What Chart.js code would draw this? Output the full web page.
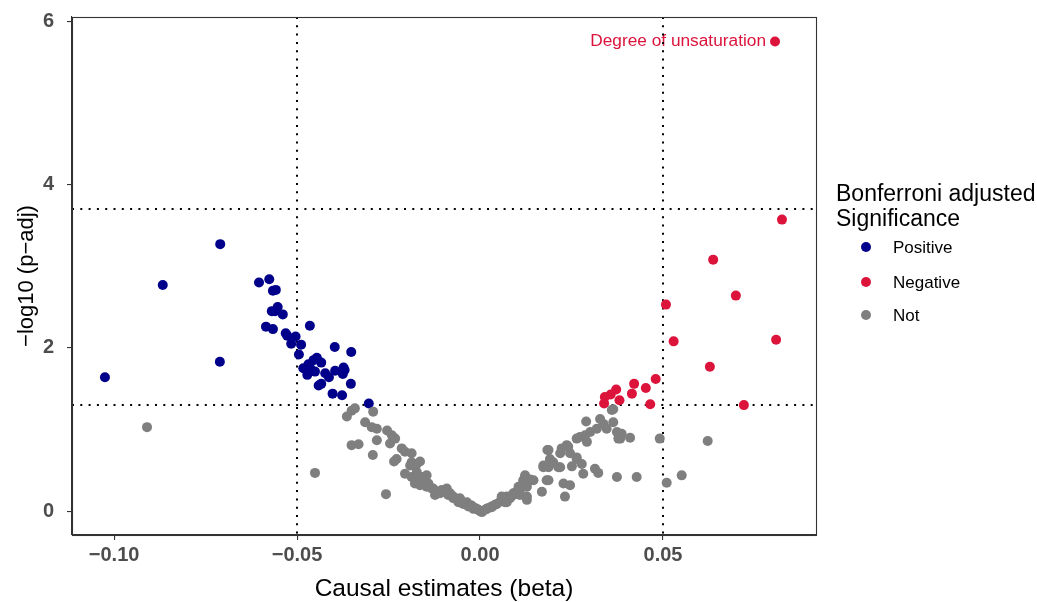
<!DOCTYPE html>
<html>
<head>
<meta charset="utf-8">
<script src="https://cdn.jsdelivr.net/npm/chart.js@4.4.1/dist/chart.umd.min.js"></script>
<style>
html,body{margin:0;padding:0;background:#fff;}
#wrap{width:1037px;height:602px;position:relative;}
</style>
</head>
<body>
<div id="wrap"><canvas id="c" width="1037" height="602"></canvas></div>
<script>
// ---- Data (beta, -log10 p-adj) ----
const positivePoints = [
  [-0.0710,3.27],[-0.0867,2.77],[-0.1025,1.64],[-0.0711,1.83],
  [-0.0604,2.80],[-0.0576,2.84],[-0.0566,2.70],[-0.0558,2.71],
  [-0.0553,2.50],[-0.0569,2.45],[-0.0560,2.45],[-0.0539,2.41],
  [-0.0585,2.26],[-0.0566,2.23],[-0.0465,2.27],[-0.0531,2.18],
  [-0.0527,2.15],[-0.0504,2.14],[-0.0516,2.05],[-0.0489,2.04],
  [-0.0397,2.01],[-0.0352,1.95],[-0.0495,1.92],[-0.0446,1.88],
  [-0.0455,1.85],[-0.0434,1.82],[-0.0469,1.80],[-0.0483,1.75],
  [-0.0464,1.75],[-0.0451,1.71],[-0.0472,1.67],[-0.0423,1.69],
  [-0.0413,1.64],[-0.0396,1.72],[-0.0373,1.76],[-0.0370,1.73],
  [-0.0375,1.68],[-0.0353,1.56],[-0.0441,1.54],[-0.0434,1.56],
  [-0.0403,1.44],[-0.0377,1.42],[-0.0304,1.32]
];
const negativePoints = [
  [0.0806,5.75],[0.0825,3.57],[0.0637,3.08],[0.0699,2.64],
  [0.0508,2.53],[0.0529,2.08],[0.0809,2.10],[0.0628,1.77],
  [0.0480,1.62],[0.0421,1.56],[0.0453,1.51],[0.0415,1.44],
  [0.0372,1.49],[0.0357,1.43],[0.0341,1.40],[0.0381,1.36],
  [0.0339,1.32],[0.0465,1.31],[0.0721,1.30]
];
const notPoints = [
  [-0.0910,1.03],[-0.0451,0.47],
  [-0.0364,1.16],[-0.0351,1.23],[-0.0342,1.26],
  [-0.0351,0.81],[-0.0332,0.82],
  [-0.0292,1.22],[-0.0314,1.09],[-0.0296,1.03],[-0.0282,1.01],
  [-0.0254,0.99],[-0.0241,0.93],[-0.0232,0.89],[-0.0282,0.87],[-0.0246,0.83],
  [-0.0293,0.69],[-0.0257,0.21],
  [-0.0214,0.77],[-0.0205,0.73],[-0.0228,0.64],[-0.0235,0.61],
  [-0.0191,0.56],[-0.0173,0.58],[-0.0187,0.60],[-0.0164,0.61],
  [-0.0187,0.71],[-0.0182,0.56],
  [-0.0205,0.46],[-0.0187,0.42],[-0.0169,0.40],[-0.0173,0.48],
  [-0.0159,0.42],[-0.0146,0.44],[-0.0178,0.34],[-0.0164,0.32],[-0.0150,0.38],[-0.0164,0.36],
  [-0.0146,0.30],[-0.0141,0.34],[-0.0132,0.28],[-0.0128,0.28],[-0.0118,0.24],[-0.0123,0.20],
  [-0.0109,0.22],[-0.0105,0.26],[-0.0091,0.26],[-0.0087,0.20],[-0.0091,0.28],[-0.0082,0.22],
  [-0.0073,0.16],[-0.0073,0.18],[-0.0064,0.15],[-0.0059,0.11],[-0.0055,0.16],[-0.0050,0.12],
  [-0.0046,0.09],[-0.0041,0.10],[-0.0036,0.11],[-0.0032,0.06],[-0.0027,0.07],[-0.0023,0.07],
  [-0.0018,0.03],[-0.0014,0.04],[-0.0009,0.03],[-0.0005,0.02],[0.0000,0.00],[0.0005,-0.01],
  [0.0014,0.02],[0.0018,0.03],[0.0023,0.04],[0.0032,0.05],[0.0032,0.06],[0.0041,0.08],
  [0.0046,0.09],[0.0055,0.12],[0.0059,0.18],[0.0059,0.13],[0.0068,0.11],[0.0073,0.11],
  [0.0073,0.18],[0.0082,0.16],[0.0091,0.20],[0.0091,0.22],[0.0096,0.22],[0.0100,0.24],
  [0.0105,0.30],[0.0109,0.20],[0.0109,0.26],[0.0114,0.32],[0.0118,0.38],[0.0123,0.38],
  [0.0123,0.42],[0.0123,0.44],[0.0128,0.18],[0.0128,0.14],[0.0128,0.30],[0.0137,0.38],
  [0.0137,0.39],[0.0146,0.38],
  [0.0169,0.24],[0.0182,0.38],[0.0187,0.38],[0.0173,0.54],[0.0173,0.56],[0.0187,0.58],
  [0.0187,0.54],[0.0184,0.75],[0.0187,0.75],[0.0191,0.64],[0.0200,0.60],[0.0214,0.54],
  [0.0219,0.54],[0.0223,0.77],[0.0237,0.81],[0.0241,0.79],[0.0219,0.71],[0.0246,0.71],
  [0.0228,0.34],[0.0246,0.32],[0.0232,0.18],
  [0.0251,0.55],[0.0264,0.64],[0.0264,0.66],[0.0278,0.58],[0.0282,0.46],[0.0314,0.52],[0.0323,0.47],
  [0.0264,0.89],[0.0273,0.91],[0.0287,0.93],[0.0292,0.85],[0.0301,0.97],[0.0290,1.10],
  [0.0319,1.01],[0.0346,1.01],[0.0374,0.97],[0.0328,1.13],[0.0337,1.07],[0.0364,1.09],
  [0.0364,1.25],[0.0360,1.24],
  [0.0383,0.89],[0.0410,0.90],[0.0378,0.89],[0.0387,0.95],
  [0.0374,0.42],[0.0428,0.42],
  [0.0491,0.89],[0.0510,0.35],[0.0551,0.44],[0.0622,0.86]
];
const seriesNames = ["Positive","Negative","Not"];
const seriesColors = ["#00008B","#DC143C","#7F7F7F"];
const xTicks = [-0.10,-0.05,0.00,0.05];
const yTicks = [0,2,4,6];
const vLines = [-0.05,0.05];
const hLines = [1.30103,3.69897];
const labelText = "Degree of unsaturation";
const labelPoint = [0.0806,5.75];
const legendTitle = ["Bonferroni adjusted","Significance"];
const xTitle = "Causal estimates (beta)";
const yTitle = "\u2212log10 (p\u2212adj)";

const toXY = arr => arr.map(p => ({x:p[0], y:p[1]}));

const PAD_L = 0, PAD_T = 17, PAD_R = 221;
const Y_AXIS_W = 72, X_AXIS_H = 67;
const FONT = '"Liberation Sans", Arial, sans-serif';

const overlay = {
  id:'overlay',
  beforeDatasetsDraw(chart){
    const {ctx, chartArea:a, scales:{x,y}} = chart;
    ctx.save();
    ctx.fillStyle = seriesColors[1];
    ctx.font = '17.3px ' + FONT;
    ctx.textAlign = 'right';
    ctx.textBaseline = 'middle';
    ctx.fillText(labelText, x.getPixelForValue(labelPoint[0]) - 9, y.getPixelForValue(labelPoint[1]));
    ctx.strokeStyle = '#000';
    ctx.lineWidth = 2;
    ctx.setLineDash([2,6.3]);
    vLines.forEach(v=>{
      const px = Math.round(x.getPixelForValue(v));
      ctx.beginPath(); ctx.moveTo(px, a.top); ctx.lineTo(px, a.bottom); ctx.stroke();
    });
    hLines.forEach(v=>{
      const py = Math.round(y.getPixelForValue(v));
      ctx.beginPath(); ctx.moveTo(a.left, py); ctx.lineTo(a.right, py); ctx.stroke();
    });
    ctx.restore();
  },
  afterDraw(chart){
    const {ctx, chartArea:a} = chart;
    ctx.save();
    ctx.strokeStyle = '#333333';
    ctx.lineWidth = 1.1;
    ctx.strokeRect(a.left+0.5, a.top+0.5, a.right-a.left, a.bottom-a.top);
    ctx.fillStyle = '#000';
    ctx.font = '23px ' + FONT;
    ctx.textAlign = 'left';
    ctx.textBaseline = 'middle';
    ctx.fillText(legendTitle[0], 836, 195);
    ctx.fillText(legendTitle[1], 836, 220);
    const ys = [247,282,315];
    ctx.font = '17px ' + FONT;
    seriesNames.forEach((n,i)=>{
      ctx.fillStyle = seriesColors[i];
      ctx.beginPath(); ctx.arc(866, ys[i], 5, 0, Math.PI*2); ctx.fill();
      ctx.fillStyle = '#000';
      ctx.fillText(n, 893, ys[i]+1);
    });
    ctx.restore();
  }
};

const mkDs = (label, pts, color) => ({
  label, data: toXY(pts), backgroundColor: color, borderColor: color,
  borderWidth: 0, pointRadius: 5, pointHoverRadius: 5
});

new Chart(document.getElementById('c'), {
  type:'scatter',
  data:{ datasets:[
    mkDs(seriesNames[2], notPoints, seriesColors[2]),
    mkDs(seriesNames[0], positivePoints, seriesColors[0]),
    mkDs(seriesNames[1], negativePoints, seriesColors[1])
  ]},
  options:{
    responsive:false, animation:false, devicePixelRatio:1,
    layout:{ padding:{left:PAD_L, top:PAD_T, right:PAD_R, bottom:0} },
    plugins:{ legend:{display:false}, tooltip:{enabled:false} },
    scales:{
      x:{
        type:'linear', min:-0.1115, max:0.0918,
        afterBuildTicks: s => { s.ticks = xTicks.map(v=>({value:v})); },
        afterFit: s => { s.height = X_AXIS_H; s.paddingLeft = 0; s.paddingRight = 0; },
        grid:{ drawOnChartArea:false, drawTicks:true, tickLength:5, color:'#333333', lineWidth:1.1 },
        border:{ display:true, color:'#333333', width:1.1 },
        ticks:{ color:'#4D4D4D', padding:3, maxRotation:0, autoSkip:false,
          font:{ family:FONT, size:20, weight:'bold' },
          callback: v => v.toFixed(2).replace('-', '\u2212') },
        title:{ display:true, text:xTitle, color:'#000',
          font:{ family:FONT, size:24.5 },
          padding:{top:0,bottom:-2} }
      },
      y:{
        type:'linear', min:-0.29, max:6.05,
        afterBuildTicks: s => { s.ticks = yTicks.map(v=>({value:v})); },
        afterFit: s => { s.width = Y_AXIS_W; s.paddingTop = 0; s.paddingBottom = 0; },
        grid:{ drawOnChartArea:false, drawTicks:true, tickLength:5, color:'#333333', lineWidth:1.1 },
        border:{ display:true, color:'#333333', width:1.1 },
        ticks:{ color:'#4D4D4D', padding:13, autoSkip:false,
          font:{ family:FONT, size:20, weight:'bold' },
          callback: v => String(v) },
        title:{ display:true, text:yTitle, color:'#000',
          font:{ family:FONT, size:22 },
          padding:{top:14,bottom:0} }
      }
    }
  },
  plugins:[overlay]
});
</script>
</body>
</html>
